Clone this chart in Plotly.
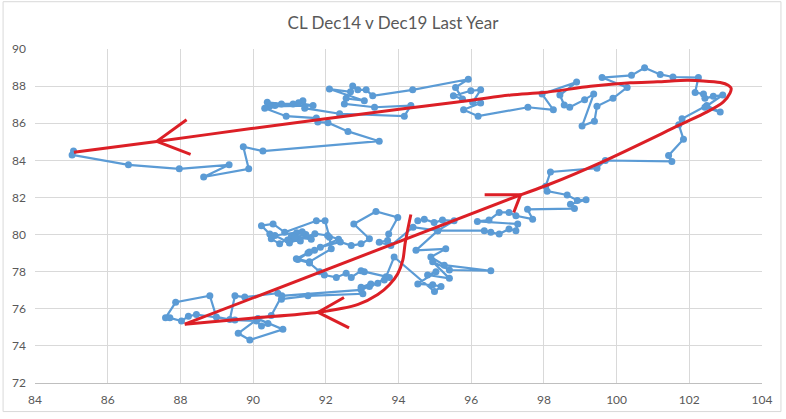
import plotly.graph_objects as go

# CL Dec14 (x) vs Dec19 (y) daily settles, last year
dec14 = [
    94.53, 94.71, 94.98, 95.21, 95.53, 95.08, 94.48, 95.30, 94.89, 95.26,
    96.54, 95.40, 94.94, 95.40, 94.80, 95.03, 94.53, 94.94, 95.17, 94.99,
    93.88, 93.66, 93.43, 93.20, 93.24, 92.97, 93.02, 91.51, 90.78, 90.68,
    89.77, 89.50, 89.36, 88.99, 88.81, 87.87, 87.59, 87.71, 88.03, 88.22,
    88.44, 89.50, 90.09, 90.23, 90.41, 90.13, 90.82, 89.91, 89.59, 90.13,
    90.50, 90.79, 92.97, 93.61, 93.75, 93.06, 92.97, 92.70, 92.56, 92.29,
    91.96, 91.83, 91.55, 91.23, 91.51, 91.69, 91.55, 91.19, 91.55, 92.15,
    92.10, 91.98, 91.74, 90.87, 90.55, 90.23, 90.46, 90.50, 90.73, 91.05,
    91.20, 90.95, 91.30, 91.45, 91.15, 91.60, 91.35, 90.60, 91.00, 91.70,
    92.05, 92.35, 91.85, 92.40, 92.70,
    92.97, 93.20, 92.77, 93.38, 93.98, 93.73, 93.70, 93.47, 93.79, 94.40,
    95.08, 96.36, 96.54, 96.77, 97.04, 97.23, 97.28, 96.17, 96.49, 96.77,
    97.04, 97.23, 97.69, 97.55, 98.84, 98.73, 99.16, 98.92, 98.64, 98.09,
    98.05, 98.18, 99.46, 99.69, 101.52, 101.43, 101.84, 101.71, 101.80, 102.48,
    102.85, 102.43, 102.92, 102.66, 102.43, 102.39, 102.16, 102.25, 101.55, 101.20,
    100.77, 100.41, 99.60, 100.29, 99.90, 99.46, 99.39, 99.05, 99.37, 99.12,
    98.71, 98.56, 98.44, 98.90, 97.95, 98.26, 97.56, 96.19, 95.79, 96.26,
    96.04, 96.26, 95.99, 95.51, 95.76, 95.57, 95.92, 94.39, 93.29, 93.11,
    92.88, 92.74, 92.68, 92.10, 93.06, 92.56, 92.51, 93.34, 94.34, 94.16,
    92.38, 91.42, 91.37, 91.10, 90.78, 90.39, 90.60, 91.25, 91.65, 90.45,
    90.32, 90.91, 91.74, 91.78,
    92.06, 92.61, 93.47, 90.27, 89.73, 89.88, 88.64, 89.34, 87.97, 86.57,
    85.02, 85.06,
]
dec19 = [
    80.74, 80.83, 80.65, 80.78, 80.74, 80.21, 79.15, 79.23, 78.79, 78.35,
    78.05, 78.09, 78.53, 77.64, 77.82, 77.99, 77.34, 77.29, 77.20, 76.93,
    78.79, 77.73, 77.37, 77.20, 77.34, 77.16, 76.81, 76.70, 76.52, 76.84,
    76.63, 76.70, 75.42, 75.56, 76.70, 76.35, 75.51, 75.51, 75.34, 75.60,
    75.69, 75.39, 75.34, 75.07, 75.21, 75.46, 74.89, 74.32, 74.68, 75.46,
    75.64, 76.70, 77.02, 77.55, 77.69, 78.00, 78.05, 77.69, 77.91, 77.69,
    77.82, 78.00, 78.47, 78.65, 79.00, 79.15, 79.06, 78.70, 78.53, 79.23,
    79.86, 80.74, 80.74, 80.12, 80.57, 80.48, 80.03, 79.77, 79.50, 79.90,
    80.10, 79.70, 79.65, 80.00, 79.85, 79.75, 80.15, 79.95, 79.55, 80.05,
    79.95, 79.75, 79.32, 79.60, 79.41,
    79.50, 79.77, 80.57, 81.24, 80.92, 80.03, 79.68, 79.59, 79.41, 80.40,
    80.21, 80.21, 80.12, 80.03, 80.30, 80.21, 80.57, 80.71, 80.78, 81.19,
    81.19, 81.01, 80.83, 81.36, 81.40, 81.63, 81.88, 81.84, 82.13, 82.34,
    82.61, 83.37, 83.58, 83.99, 83.94, 84.26, 85.14, 85.92, 86.24, 86.95,
    86.60, 86.86, 87.52, 87.45, 87.34, 87.57, 87.66, 88.46, 88.49, 88.63,
    88.99, 88.58, 88.46, 87.93, 87.34, 86.91, 86.10, 85.85, 87.57, 87.27,
    86.86, 86.98, 87.52, 88.22, 87.57, 86.72, 86.86, 86.38, 86.73, 87.09,
    87.13, 87.80, 87.75, 87.48, 87.30, 87.93, 88.37, 87.80, 87.48, 87.80,
    87.80, 88.01, 87.69, 87.84, 87.21, 87.34, 87.04, 86.86, 86.95, 86.38,
    86.51, 86.81, 87.21, 87.04, 87.04, 87.13, 86.95, 87.10, 86.95, 86.90,
    86.81, 86.38, 86.28, 86.06,
    86.03, 85.56, 85.03, 84.50, 84.73, 83.54, 83.10, 83.76, 83.54, 83.76,
    84.29, 84.50,
]

# hand-drawn red arrows (data coords)
drop_x = [94.34, 94.25, 94.18, 94.12, 93.98, 93.75, 93.43, 92.89, 91.79, 89.95, 88.12]
drop_y = [81.08, 80.23, 79.49, 78.63, 77.89, 77.30, 76.77, 76.24, 75.81, 75.49, 75.17]
head1_x = [92.50, 91.79, 92.64]
head1_y = [76.61, 75.81, 74.97]

rise_x = [88.12, 97.36]
rise_y = [75.17, 82.14]
loop_x = [97.36, 98.10, 99.64, 101.75, 102.49, 102.93, 103.12, 103.15, 103.07, 102.85,
          102.38, 101.94, 101.12, 100.38, 99.28, 97.99, 97.09, 95.63, 94.07, 89.95, 87.35, 85.07]
loop_y = [82.14, 82.67, 83.95, 85.92, 86.61, 87.14, 87.62, 87.89, 88.05, 88.19,
          88.28, 88.31, 88.23, 88.18, 87.99, 87.65, 87.52, 87.14, 86.77, 85.71, 85.02, 84.43]
head2_x = [96.37, 97.36, 97.17]
head2_y = [82.15, 82.15, 81.19]
head3_x = [88.17, 87.35, 88.28]
head3_y = [86.19, 85.02, 84.32]

BLUE = '#5B9BD5'
RED = '#DC1F26'

fig = go.Figure()
fig.add_trace(go.Scatter(
    x=dec14, y=dec19, mode='lines+markers',
    line=dict(color=BLUE, width=2.2),
    marker=dict(color=BLUE, size=7),
))
# curved strokes
for xs, ys in [(drop_x, drop_y), (loop_x, loop_y)]:
    fig.add_trace(go.Scatter(
        x=xs, y=ys, mode='lines',
        line=dict(color=RED, width=3, shape='spline', smoothing=0.8),
    ))
# straight strokes and arrow heads
for xs, ys in [(rise_x, rise_y), (head1_x, head1_y), (head2_x, head2_y), (head3_x, head3_y)]:
    fig.add_trace(go.Scatter(
        x=xs, y=ys, mode='lines',
        line=dict(color=RED, width=3),
    ))

axis_font = dict(family='Lato, Open Sans, sans-serif', size=12, color='#595959')

fig.update_layout(
    width=786, height=419,
    margin=dict(l=33, r=24, t=49, b=31),
    paper_bgcolor='white', plot_bgcolor='white',
    showlegend=False,
    title=dict(text='CL Dec14 v Dec19 Last Year', x=0.5, xanchor='center',
               y=0.945, yanchor='middle',
               font=dict(family='Lato, Open Sans, sans-serif', size=17, color='#595959')),
    xaxis=dict(range=[84, 104], dtick=2, tick0=84, showgrid=True, gridcolor='#D9D9D9',
               zeroline=False, showline=True, linecolor='#BFBFBF', linewidth=1,
               tickfont=axis_font, ticklabelstandoff=6),
    yaxis=dict(range=[72, 90], dtick=2, tick0=72, showgrid=True, gridcolor='#D9D9D9',
               zeroline=False, showline=False, tickfont=axis_font, ticklabelstandoff=8),
    shapes=[dict(type='rect', xref='paper', yref='paper',
                 x0=-32 / 729, x1=(781 - 33) / 729,
                 y0=(388 - 417) / 339, y1=(388 - 1) / 339,
                 line=dict(color='#D9D9D9', width=1))],
)

# drop the browser's default body margin so the chart sits at the page corner
fig.write_html('out.html', config={'displayModeBar': False},
               post_script="document.body.style.margin='0';document.body.style.overflow='hidden';")
